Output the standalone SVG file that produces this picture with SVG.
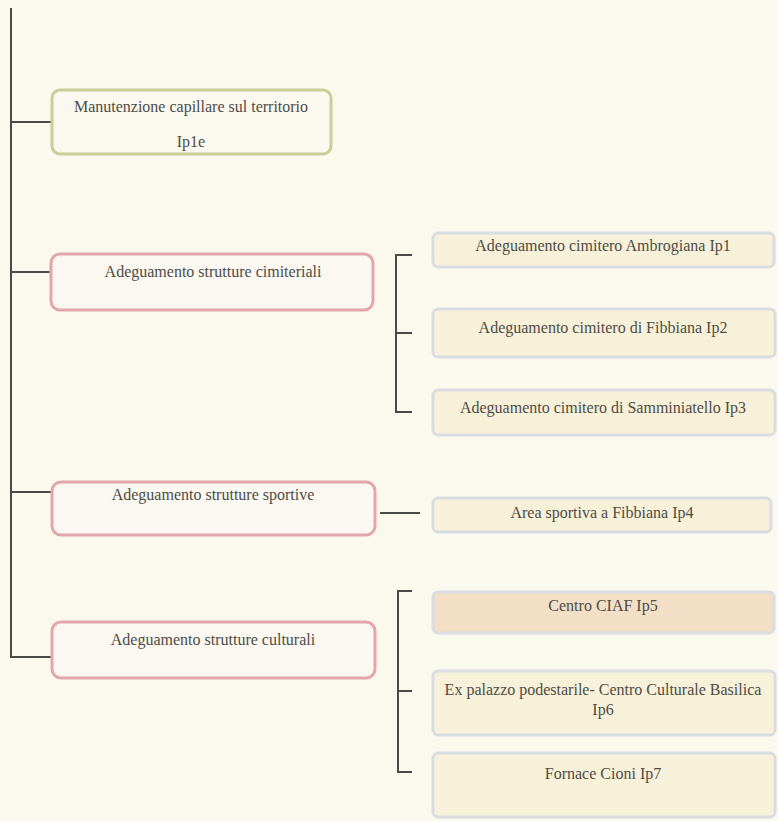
<svg xmlns="http://www.w3.org/2000/svg" width="778" height="821" viewBox="0 0 778 821">
  <style>
    .bg { fill: #fbf8ee; }
    .wire { fill: none; stroke: #4a4a46; stroke-width: 2; }
    .root-box { fill: #fbf9ef; stroke: #c8d09a; stroke-width: 3; }
    .group-box { fill: #fbf8f1; stroke: #e3a6ae; stroke-width: 3; }
    .leaf-box { fill: #f8f1d9; stroke: #d9dde2; stroke-width: 3; }
    .leaf-peach { fill: #f2dfc6; stroke: #d9dde2; stroke-width: 3; }
    text { font-family: "Liberation Serif", "DejaVu Serif", serif; font-size: 16px; fill: #4e4c46; text-anchor: middle; }
  </style>
  <rect class="bg" x="0" y="0" width="778" height="821"/>

  <g id="connectors">
    <!-- main trunk -->
    <path class="wire" d="M11,8 V657 H52"/>
    <path class="wire" d="M11,122 H52"/>
    <path class="wire" d="M11,272 H52"/>
    <path class="wire" d="M11,492 H52"/>
    <!-- cemetery branch -->
    <path class="wire" d="M412,255 H396 V412 H412"/>
    <path class="wire" d="M396,333 H412"/>
    <!-- sports branch -->
    <path class="wire" d="M380,513 H420"/>
    <!-- culture branch -->
    <path class="wire" d="M412,591 H398 V772 H412"/>
    <path class="wire" d="M398,691 H412"/>
  </g>

  <g id="n-manutenzione">
    <rect class="root-box" x="52" y="90" width="279" height="64" rx="8"/>
    <text x="191" y="112">Manutenzione capillare sul territorio</text>
    <text x="191" y="147">Ip1e</text>
  </g>

  <g id="n-cimiteriali">
    <rect class="group-box" x="51" y="254" width="322" height="56" rx="9"/>
    <text x="213" y="277">Adeguamento strutture cimiteriali</text>
  </g>

  <g id="n-sportive">
    <rect class="group-box" x="52" y="482" width="323" height="53" rx="9"/>
    <text x="213" y="500">Adeguamento strutture sportive</text>
  </g>

  <g id="n-culturali">
    <rect class="group-box" x="52" y="622" width="323" height="56" rx="9"/>
    <text x="213" y="645">Adeguamento strutture culturali</text>
  </g>

  <g id="n-ip1">
    <rect class="leaf-box" x="433" y="233" width="341" height="34" rx="5"/>
    <text x="603" y="251">Adeguamento cimitero Ambrogiana  Ip1</text>
  </g>

  <g id="n-ip2">
    <rect class="leaf-box" x="433" y="309" width="342" height="48" rx="5"/>
    <text x="603" y="333">Adeguamento cimitero di Fibbiana Ip2</text>
  </g>

  <g id="n-ip3">
    <rect class="leaf-box" x="433" y="390" width="342" height="45" rx="5"/>
    <text x="603" y="413">Adeguamento cimitero di Samminiatello Ip3</text>
  </g>

  <g id="n-ip4">
    <rect class="leaf-box" x="433" y="498" width="338" height="34" rx="5"/>
    <text x="602" y="518">Area sportiva a Fibbiana Ip4</text>
  </g>

  <g id="n-ip5">
    <rect class="leaf-peach" x="433" y="592" width="341" height="41" rx="5"/>
    <text x="603" y="611">Centro CIAF  Ip5</text>
  </g>

  <g id="n-ip6">
    <rect class="leaf-box" x="433" y="671" width="342" height="64" rx="5"/>
    <text x="603" y="695">Ex palazzo podestarile- Centro Culturale Basilica</text>
    <text x="603" y="715">Ip6</text>
  </g>

  <g id="n-ip7">
    <rect class="leaf-box" x="433" y="753" width="342" height="64" rx="5"/>
    <text x="603" y="779">Fornace Cioni  Ip7</text>
  </g>
</svg>
